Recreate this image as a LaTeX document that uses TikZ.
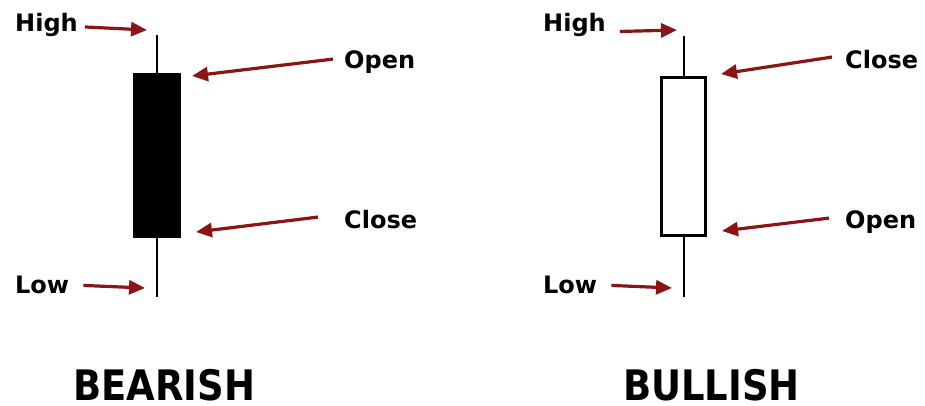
\documentclass[tikz,border=0pt]{standalone}
\usepackage{fontspec}
\setmainfont{DejaVu Sans}
\usetikzlibrary{arrows.meta}
\definecolor{arrowred}{HTML}{8B1414}
\tikzset{
  lbl/.style={anchor=base west, inner sep=0pt, font=\fontsize{24}{28}\selectfont\bfseries},
  title/.style={anchor=base west, inner sep=0pt, font=\fontsize{42}{48}\selectfont\bfseries},
  pointer/.style={draw=arrowred, line width=3.2pt, -{Triangle[length=16pt,width=14pt,fill=arrowred]}},
  wick/.style={line width=2pt},
}
\begin{document}
\begin{tikzpicture}[x=1pt,y=-1pt]
\useasboundingbox (0,0) rectangle (925,406);

% ---- bearish candle ----
\node[draw, fill=black, line width=0pt, inner sep=0pt, minimum width=47pt, minimum height=163pt] (bear) at (156.5,155.5) {};
\coordinate (bearTop) at (156.5,35);
\coordinate (bearBot) at (156.5,297);
\draw[wick] (bearTop) -- (bear.north);
\draw[wick] (bear.south) -- (bearBot);

\node[lbl] (bHigh) at (15,32) {High};
\node[lbl] (bOpen) at (344,69) {Open};
\node[lbl] (bClose) at (344,228) {Close};
\node[lbl] (bLow) at (15,293) {Low};

\coordinate (bHighT) at (147,30);
\coordinate (bOpenT) at (192,76);
\coordinate (bCloseT) at (196,232);
\coordinate (bLowT) at (145,288);

\draw[pointer] ([xshift=7pt,yshift=-1.5pt]bHigh.east) -- (bHighT);
\draw[pointer] ([xshift=-11pt,yshift=3.5pt]bOpen.west) -- (bOpenT);
\draw[pointer] ([xshift=-26pt,yshift=2pt]bClose.west) -- (bCloseT);
\draw[pointer] ([xshift=14pt,yshift=-1pt]bLow.east) -- (bLowT);

\node[title] (bear label) at (73,400) {\scalebox{0.88}[1]{BEARISH}};

% ---- bullish candle ----
\node[draw, fill=white, line width=3pt, inner sep=0pt, minimum width=44pt, minimum height=157pt] (bull) at (683.5,156.5) {};
\coordinate (bullTop) at (683.5,36);
\coordinate (bullBot) at (683.5,297);
\draw[wick] (bullTop) -- (bull.north);
\draw[wick] (bull.south) -- (bullBot);

\node[lbl] (uHigh) at (543,32) {High};
\node[lbl] (uClose) at (845,69) {Close};
\node[lbl] (uOpen) at (845,228) {Open};
\node[lbl] (uLow) at (543,293) {Low};

\coordinate (uHighT) at (677,30);
\coordinate (uCloseT) at (721,74);
\coordinate (uOpenT) at (722,231);
\coordinate (uLowT) at (672,288);

\draw[pointer] ([xshift=14pt,yshift=-6pt]uHigh.east) -- (uHighT);
\draw[pointer] ([xshift=-13pt,yshift=3pt]uClose.west) -- (uCloseT);
\draw[pointer] ([xshift=-16pt,yshift=3.5pt]uOpen.west) -- (uOpenT);
\draw[pointer] ([xshift=14pt,yshift=-1pt]uLow.east) -- (uLowT);

\node[title] (bull label) at (623,400) {\scalebox{0.88}[1]{BULLISH}};
\end{tikzpicture}
\end{document}
